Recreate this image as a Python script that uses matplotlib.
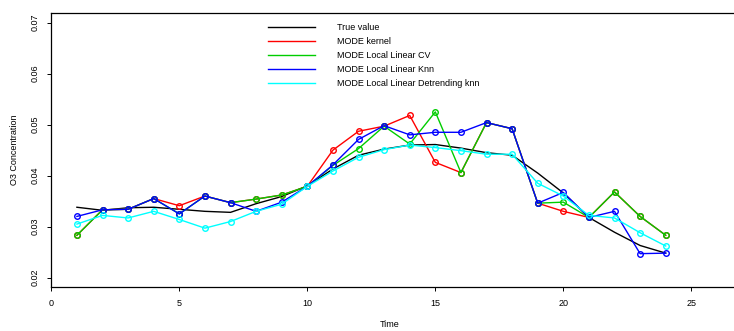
import matplotlib
matplotlib.use("Agg")
import matplotlib.pyplot as plt

plt.rcParams["font.family"] = ["Liberation Sans", "DejaVu Sans"]

time = list(range(1, 25))

true_value = [0.0338, 0.0332, 0.0337, 0.0338, 0.0334, 0.0330, 0.0328, 0.0345,
              0.0359, 0.0380, 0.0413, 0.0440, 0.0452, 0.0460, 0.0461, 0.0454,
              0.0445, 0.0440, 0.0405, 0.0366, 0.0318, 0.0289, 0.0263, 0.0248]
kernel = [0.0283, 0.0333, 0.0334, 0.0355, 0.0341, 0.0360, 0.0347, 0.0354,
          0.0362, 0.0379, 0.0450, 0.0487, 0.0497, 0.0518, 0.0426, 0.0406,
          0.0504, 0.0492, 0.0346, 0.0330, 0.0318, 0.0368, 0.0320, 0.0283]
ll_cv = [0.0283, 0.0333, 0.0334, 0.0355, 0.0325, 0.0360, 0.0347, 0.0354,
         0.0362, 0.0379, 0.0420, 0.0453, 0.0497, 0.0462, 0.0525, 0.0406,
         0.0504, 0.0492, 0.0346, 0.0348, 0.0318, 0.0368, 0.0320, 0.0283]
ll_knn = [0.0320, 0.0333, 0.0334, 0.0355, 0.0325, 0.0360, 0.0347, 0.0330,
          0.0348, 0.0379, 0.0421, 0.0471, 0.0498, 0.0480, 0.0485, 0.0485,
          0.0504, 0.0492, 0.0346, 0.0367, 0.0318, 0.0330, 0.0247, 0.0248]
ll_detrend = [0.0305, 0.0322, 0.0317, 0.0330, 0.0314, 0.0297, 0.0310, 0.0330,
              0.0344, 0.0379, 0.0409, 0.0436, 0.0451, 0.0460, 0.0455, 0.0449,
              0.0442, 0.0442, 0.0385, 0.0360, 0.0322, 0.0317, 0.0288, 0.0262]

labels = ["True value", "MODE kernel", "MODE Local Linear CV",
          "MODE Local Linear Knn", "MODE Local Linear Detrending knn"]
colors = ["black", "#FF0000", "#00CD00", "#0000FF", "#00FFFF"]

fig = plt.figure(figsize=(7.34, 3.31), dpi=100)
ax = fig.add_axes([0.0699, 0.132, 0.9417, 0.8296])

# true value: line only
ax.plot(time, true_value, color=colors[0], lw=1.0, label=labels[0])

for y, c, lab in zip([kernel, ll_cv, ll_knn, ll_detrend], colors[1:], labels[1:]):
    ax.plot(time, y, color=c, lw=1.0, label=lab)
    ax.plot(time, y, "o", color=c, mfc="none", ms=4, mew=1.0)

ax.set_xlim(0, 27)
ax.set_ylim(0.0181, 0.07195)
ax.set_xticks([0, 5, 10, 15, 20, 25])
ax.set_yticks([0.02, 0.03, 0.04, 0.05, 0.06, 0.07])
ax.set_yticklabels(["0.02", "0.03", "0.04", "0.05", "0.06", "0.07"], rotation=90, va="center")

ax.spines["right"].set_visible(False)
for s in ["top", "left", "bottom"]:
    ax.spines[s].set_linewidth(0.9)
ax.tick_params(axis="both", labelsize=6.5, length=3.2, width=0.7, pad=5)

ax.set_xlabel("Time", fontsize=6.5)
ax.set_ylabel("O3 Concentration", fontsize=6.5)
ax.xaxis.set_label_coords(390 / 734, 1 - 320 / 331, transform=fig.transFigure)
ax.yaxis.set_label_coords(19 / 734, 0.5467, transform=fig.transFigure)

ax.legend(loc="upper left", bbox_to_anchor=(268 / 734, 1 - 23.1 / 331),
          bbox_transform=fig.transFigure, frameon=False, fontsize=6.5,
          handlelength=5.2, handletextpad=2.4, labelspacing=0.56,
          borderpad=0, borderaxespad=0)

fig.savefig("out.png", dpi=100)
